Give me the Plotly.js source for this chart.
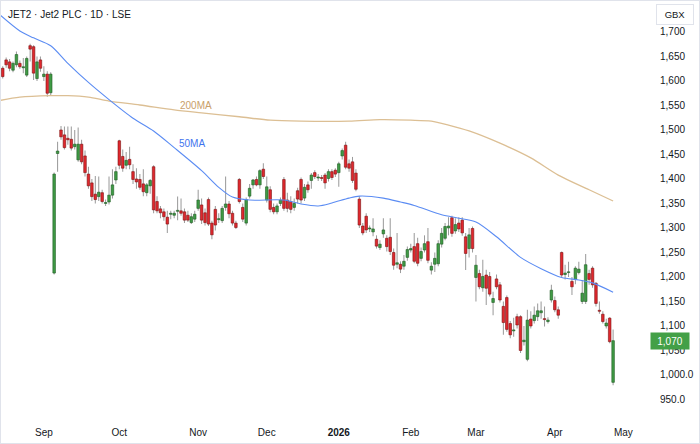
<!DOCTYPE html>
<html><head><meta charset="utf-8">
<script src="https://cdn.plot.ly/plotly-3.0.1.min.js"></script>
<style>html,body{margin:0;padding:0;background:#fff;}#chart{width:700px;height:444px;box-sizing:border-box;border:1px solid #e0e3eb;}</style>
</head><body><div id="chart"></div>
<script>
// trading-day index 0 = 13 Aug 2025, daily bars
const openP = [1626,1643,1639,1622,1633,1636,1627,1612,1672,1670,
1605,1643,1609,1614,1576,1208,1452,1500,1490,1483,
1481,1466,1439,1471,1447,1410,1392,1369,1364,1372,
1350,1353,1367,1398,1478,1446,1428,1440,1415,1400,
1399,1390,1372,1386,1425,1354,1339,1333,1322,1328,
1326,1334,1335,1333,1326,1311,1318,1340,1347,1331,
1358,1310,1338,1317,1315,1342,1349,1330,1310,1399,
1342,1310,1365,1388,1399,1388,1420,1357,1378,1342,
1333,1350,1399,1357,1354,1342,1376,1399,1361,1388,
1397,1413,1402,1403,1408,1401,1415,1418,1413,1447,
1469,1431,1435,1412,1359,1304,1324,1298,1292,1277,
1260,1288,1279,1281,1250,1226,1226,1222,1240,1255,
1262,1268,1238,1255,1272,1214,1226,1227,1267,1279,
1300,1321,1294,1310,1316,1282,1258,1299,1199,1207,
1178,1204,1201,1148,1196,1184,1140,1158,1105,1090,
1119,1119,1068,1032,1114,1111,1119,1127,1115,1109,
1153,1152,1133,1250,1205,1209,1191,1195,1209,1150,
1150,1207,1218,1187,1132,1124,1100,1116,985];
const highP = [1630,1648,1645,1640,1660,1642,1647,1650,1676,1673,
1650,1650,1630,1620,1618,1413,1476,1508,1507,1507,
1507,1500,1505,1480,1458,1425,1400,1406,1405,1378,
1358,1405,1420,1425,1480,1460,1455,1466,1430,1422,
1410,1420,1392,1400,1428,1365,1345,1340,1335,1335,
1335,1364,1360,1340,1335,1330,1335,1378,1360,1340,
1362,1315,1345,1330,1345,1405,1355,1335,1315,1402,
1350,1362,1390,1400,1405,1420,1432,1405,1385,1350,
1350,1362,1404,1372,1365,1360,1382,1403,1390,1395,
1412,1418,1410,1408,1412,1420,1420,1422,1435,1462,
1476,1440,1445,1420,1365,1310,1330,1305,1320,1285,
1275,1320,1285,1320,1258,1290,1232,1245,1262,1268,
1290,1280,1260,1285,1300,1230,1250,1275,1300,1310,
1322,1325,1320,1322,1322,1290,1300,1303,1245,1215,
1235,1215,1210,1170,1205,1190,1150,1162,1110,1117,
1125,1122,1100,1133,1130,1140,1146,1150,1140,1118,
1184,1160,1140,1252,1225,1231,1200,1222,1231,1194,
1247,1215,1222,1190,1150,1130,1115,1118,1093];
const lowP = [1605,1627,1620,1618,1628,1625,1616,1608,1640,1602,
1600,1619,1600,1568,1570,1205,1415,1480,1460,1470,
1458,1460,1435,1430,1405,1380,1355,1350,1355,1350,
1345,1348,1360,1390,1420,1415,1420,1420,1390,1380,
1378,1365,1365,1370,1330,1330,1320,1315,1290,1318,
1320,1316,1325,1310,1312,1308,1312,1335,1308,1305,
1304,1277,1295,1310,1310,1335,1320,1305,1298,1350,
1312,1305,1360,1380,1385,1380,1400,1352,1332,1328,
1328,1345,1335,1332,1330,1335,1350,1350,1355,1372,
1380,1400,1396,1396,1380,1395,1398,1404,1384,1440,
1420,1415,1392,1375,1300,1285,1290,1292,1283,1258,
1255,1280,1252,1245,1215,1218,1208,1215,1233,1250,
1228,1222,1232,1250,1228,1205,1210,1222,1260,1275,
1285,1282,1288,1292,1284,1214,1240,1250,1150,1175,
1170,1143,1160,1122,1175,1148,1082,1088,1075,1078,
1095,1045,1060,1028,1095,1105,1110,1115,1099,1105,
1148,1128,1115,1200,1195,1200,1163,1185,1205,1145,
1145,1184,1178,1140,1125,1105,1095,1065,979];
const closeP = [1609,1633,1626,1636,1654,1629,1629,1646,1665,1616,
1639,1626,1614,1575,1614,1410,1457,1486,1464,1480,
1463,1471,1471,1435,1413,1386,1364,1358,1373,1354,
1352,1367,1388,1415,1428,1422,1438,1429,1399,1394,
1383,1374,1388,1397,1337,1335,1331,1323,1308,1330,
1330,1336,1330,1316,1316,1323,1328,1357,1316,1311,
1308,1286,1306,1319,1340,1349,1329,1310,1301,1354,
1318,1358,1381,1398,1388,1417,1405,1384,1338,1333,
1345,1357,1340,1340,1338,1350,1359,1357,1383,1378,
1408,1405,1404,1401,1392,1415,1403,1410,1431,1458,
1424,1422,1397,1379,1306,1290,1296,1300,1298,1263,
1267,1296,1262,1252,1224,1229,1216,1232,1256,1258,
1232,1228,1252,1268,1234,1222,1238,1268,1289,1303,
1304,1289,1307,1298,1290,1248,1286,1258,1224,1180,
1201,1177,1165,1156,1180,1153,1107,1093,1082,1092,
1102,1050,1071,1112,1100,1122,1131,1131,1113,1112,
1173,1133,1122,1204,1208,1210,1180,1218,1216,1167,
1225,1195,1184,1146,1130,1109,1106,1068,1070];

// moving averages (bar index -> value)
const ma50Idx = [-1,5,9,14,19,25,31,38,44,50,58,63,67,72,82,87,92,96,101,104,111,116,120,128,133,138,144,151,157,163,168,172,178];
const ma50Val = [1736,1702,1688,1672,1636,1597,1562,1524,1498,1464,1417,1383,1363,1357,1357,1349,1345,1351,1361,1365,1361,1353,1346,1327,1320,1312,1282,1240,1217,1199,1194,1188,1169];
const ma200Idx = [-1,5,14,19,25,31,40,50,58,69,78,87,101,110,119,125,130,136,145,154,162,171,178];
const ma200Val = [1560,1567,1570,1570,1567,1559,1551,1541,1535,1527,1520,1518,1518,1521,1520,1518,1510,1498,1473,1443,1408,1378,1355];

const monthTickIdx = [12,34,57,77,98,119,138,161,181];
const monthTickLabels = ['Sep','Oct','Nov','Dec','<b>2026</b>','Feb','Mar','Apr','May'];
const priceTicks = [950,1000,1050,1100,1150,1200,1250,1300,1350,1400,1450,1500,1550,1600,1650,1700];
const priceTickLabels = ['950.0','1,000.0','1,050','1,100','1,150','1,200','1,250','1,300','1,350','1,400','1,450','1,500','1,550','1,600','1,650','1,700'];

const idx = openP.map((_, i) => i);
const up = openP.map((o, i) => closeP[i] >= o);
const bodyBase = openP.map((o, i) => Math.min(o, closeP[i]));
const bodyLen = openP.map((o, i) => Math.max(Math.abs(closeP[i] - o), 1.6));
const wickLen = highP.map((h, i) => h - lowP[i]);
const lastClose = closeP[closeP.length - 1];

const FONT = 'Liberation Sans, Arial, sans-serif';
const TXT = '#131722';

const traces = [
  // wicks (low -> high)
  {type: 'bar', x: idx, base: lowP, y: wickLen, width: 0.3,
   marker: {color: '#9b9b9b', line: {width: 0}}, hoverinfo: 'skip'},
  // bodies (open <-> close)
  {type: 'bar', x: idx, base: bodyBase, y: bodyLen, width: 0.75,
   marker: {color: up.map(u => u ? '#3f9b45' : '#e0282e'),
            line: {color: up.map(u => u ? '#1e5a22' : '#7a1010'), width: 0.6}},
   hoverinfo: 'skip'},
  {type: 'scatter', mode: 'lines', x: ma200Idx, y: ma200Val,
   line: {color: '#dcbf94', width: 1.3, shape: 'spline', smoothing: 0.8}, hoverinfo: 'skip'},
  {type: 'scatter', mode: 'lines', x: ma50Idx, y: ma50Val,
   line: {color: '#5b8cf3', width: 1.1, shape: 'spline', smoothing: 0.8}, hoverinfo: 'skip'}
];

const layout = {
  width: 698, height: 442,
  margin: {l: 0, r: 54, t: 1, b: 25},
  paper_bgcolor: '#ffffff', plot_bgcolor: '#ffffff',
  showlegend: false, hovermode: false, barmode: 'overlay',
  font: {family: FONT, size: 10, color: TXT},
  xaxis: {range: [-0.5, 187.3], showgrid: false, zeroline: false, showline: false,
          tickmode: 'array', tickvals: monthTickIdx, ticktext: monthTickLabels,
          ticks: 'outside', ticklen: 5, tickcolor: 'rgba(0,0,0,0)',
          tickfont: {family: FONT, size: 10, color: TXT}},
  yaxis: {side: 'right', range: [912.2, 1761.2], showgrid: false, zeroline: false, showline: false,
          tickmode: 'array', tickvals: priceTicks, ticktext: priceTickLabels,
          ticks: 'outside', ticklen: 12, tickcolor: 'rgba(0,0,0,0)',
          tickfont: {family: FONT, size: 10, color: TXT}},
  annotations: [
    {xref: 'paper', yref: 'paper', x: 0.0078, y: 0.971, xanchor: 'left', yanchor: 'middle',
     text: 'JET2 · Jet2 PLC · 1D · LSE', showarrow: false, font: {family: FONT, size: 10, color: TXT}},
    {xref: 'x', yref: 'y', x: 56.4, y: 1551, text: '200MA', showarrow: false,
     font: {family: FONT, size: 10, color: '#c9a06a'}},
    {xref: 'x', yref: 'y', x: 55.3, y: 1473, text: '50MA', showarrow: false,
     font: {family: FONT, size: 10, color: '#3f74ee'}},
    {xref: 'paper', yref: 'paper', x: 1.0466, y: 0.971, xanchor: 'center', yanchor: 'middle',
     text: 'GBX', showarrow: false, font: {family: FONT, size: 9.5, color: TXT},
     bordercolor: '#e0e3eb', borderwidth: 1, borderpad: 3, width: 30, height: 13, bgcolor: '#ffffff'},
    {xref: 'paper', yref: 'y', x: 1.0388, y: lastClose, xanchor: 'center', yanchor: 'middle',
     text: lastClose.toLocaleString('en-US'), showarrow: false,
     font: {family: FONT, size: 10, color: '#ffffff'}, bgcolor: '#43a047', borderpad: 2,
     width: 34, height: 12}
  ]
};

Plotly.newPlot('chart', traces, layout, {staticPlot: true, displayModeBar: false});
</script></body></html>
